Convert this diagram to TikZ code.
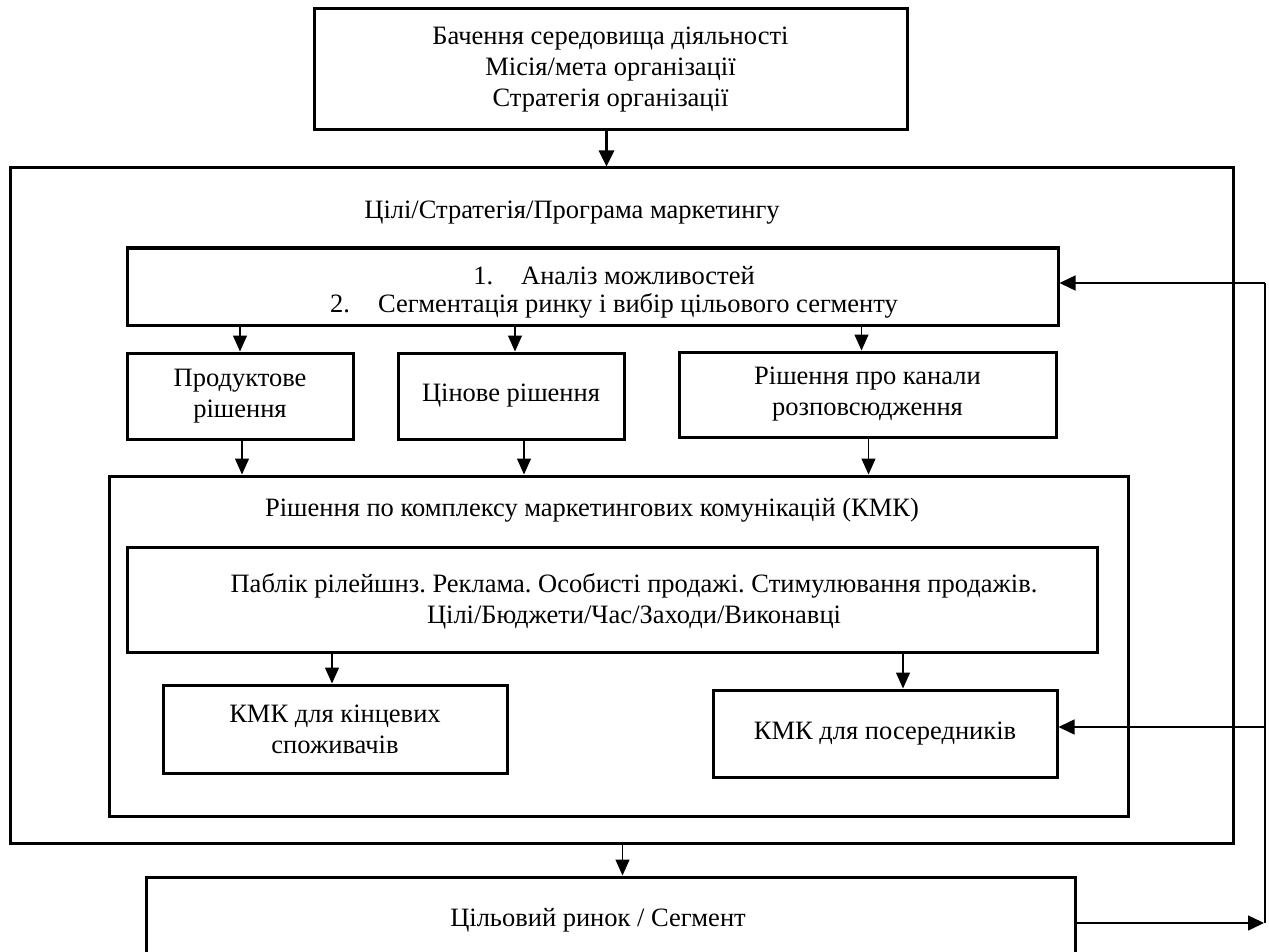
\documentclass[tikz,border=0pt]{standalone}
\usepackage{fontspec}
\setmainfont{Liberation Serif}
\usetikzlibrary{arrows.meta,calc}
\frenchspacing
\newcommand\mainfs{\fontsize{26.5}{31}\selectfont}
\tikzset{
  box/.style={draw, line width=3pt, inner sep=0pt, align=center, font=\mainfs},
  lbl/.style={inner sep=0pt, align=center, font=\mainfs},
  arr/.style={line width=1.3pt, -{Triangle[length=16pt,width=14pt]}},
  thickarr/.style={line width=3pt, -{Triangle[length=16pt,width=15pt]}},
  fbline/.style={line width=1.5pt},
  fbarr/.style={line width=1.5pt, -{Triangle[length=16pt,width=15pt]}}
}
\begin{document}
\begin{tikzpicture}[x=1pt,y=-1pt]
\useasboundingbox (0,0) rectangle (1269,952);
\clip (0,0) rectangle (1269,952);

% boxes
\node[box, minimum width=593, minimum height=121] (top) at (610.5,69.5)
  {Бачення середовища діяльності\\Місія/мета організації\\Стратегія організації};
\node[box, minimum width=1223, minimum height=675] (outer) at (621.5,505.5) {};
\node[lbl] (outerT) at (572,213) {Цілі/Стратегія/Програма маркетингу};

\node[box, minimum width=931, minimum height=77] (analysis) at (592.5,286.5) {};
\node[lbl, font=\fontsize{26.5}{28}\selectfont] (analysisT) at (614,292)
  {1.\hspace{28pt}Аналіз можливостей\\2.\hspace{28pt}Сегментація ринку і вибір цільового сегменту};

\node[box, minimum width=226, minimum height=86] (product) at (240,396) {Продуктове\\рішення};
\node[box, minimum width=226, minimum height=86] (price) at (511,396) {Цінове рішення};
\node[box, minimum width=377, minimum height=85] (channel) at (867.5,394.5) {Рішення про канали\\розповсюдження};

\node[box, minimum width=1019, minimum height=340] (kmk) at (618.5,646) {};
\node[lbl] (kmkT) at (592,510) {Рішення по комплексу маркетингових комунікацій (КМК)};

\node[box, minimum width=970, minimum height=105] (inner) at (612,599.5) {};
\node[lbl] (innerT) at (634,601)
  {Паблік рілейшнз. Реклама. Особисті продажі. Стимулювання продажів.\\Цілі/Бюджети/Час/Заходи/Виконавці};

\node[box, minimum width=344, minimum height=88] (endc) at (335,729) {КМК для кінцевих\\споживачів};
\node[box, minimum width=344, minimum height=87] (inter) at (885,733.5) {КМК для посередників};

\node[box, minimum width=929, minimum height=113] (bottom) at (610.5,933.5) {};
\node[lbl] (bottomT) at (598,920) {Цільовий ринок / Сегмент};

% connectors
\draw[thickarr] ([xshift=-4pt]top.south) -- ([xshift=-4pt]top.south |- outer.north);
\draw[arr] (product.north |- analysis.south) -- (product.north);
\draw[arr] ([xshift=4pt]price.north |- analysis.south) -- ([xshift=4pt]price.north);
\draw[arr] ([xshift=-6pt]channel.north |- analysis.south) -- ([xshift=-6pt]channel.north);
\draw[arr] ([xshift=2pt]product.south) -- ([xshift=2pt]product.south |- kmk.north);
\draw[arr] ([xshift=13pt]price.south) -- ([xshift=13pt]price.south |- kmk.north);
\draw[arr] ([xshift=1pt]channel.south) -- ([xshift=1pt]channel.south |- kmk.north);
\draw[arr] ([xshift=-3pt]endc.north |- inner.south) -- ([xshift=-3pt]endc.north);
\draw[arr] ([xshift=18pt]inter.north |- inner.south) -- ([xshift=18pt]inter.north);
\draw[arr] ([xshift=12pt]bottom.north |- outer.south) -- ([xshift=12pt]bottom.north);

% feedback loop
\coordinate (fbA) at (1265,283);
\coordinate (fbC) at (1265,727);
\coordinate (fbB) at (1265,923);
\draw[fbline] (fbA) -- (fbB);
\draw[fbarr] (fbA) -- (analysis.east |- fbA);
\draw[fbarr] (fbC) -- (inter.east |- fbC);
\draw[fbarr] (bottom.east |- fbB) -- ([xshift=-1pt]fbB);
\end{tikzpicture}
\end{document}
